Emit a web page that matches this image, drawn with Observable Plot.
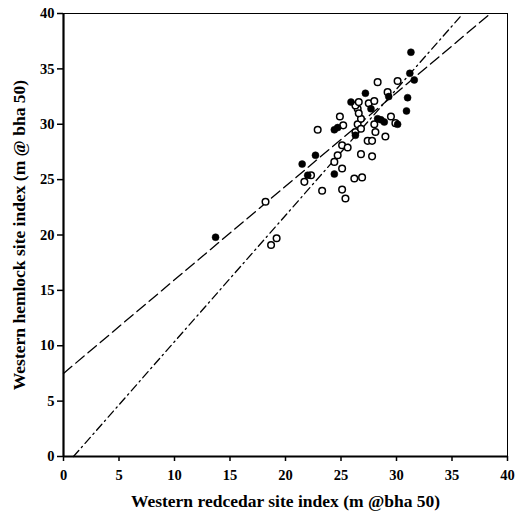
<!DOCTYPE html>
<html>
<head>
<meta charset="utf-8">
<script src="https://cdn.jsdelivr.net/npm/d3@7"></script>
<script src="https://cdn.jsdelivr.net/npm/@observablehq/plot@0.6"></script>
<style>
  html, body { margin: 0; padding: 0; background: #fff; }
</style>
</head>
<body>
<div id="chart"></div>
<script>
// Filled circles: [redcedar SI, hemlock SI]
const filledX = [13.7, 21.5, 22.0, 22.7, 24.4, 24.4, 24.7, 25.9, 26.3, 27.2, 27.7, 28.3, 28.6, 28.9, 29.3, 30.1, 30.9, 31.0, 31.3, 31.2, 31.6];
const filledY = [19.8, 26.4, 25.4, 27.2, 25.5, 29.5, 29.7, 32.0, 29.0, 32.8, 31.4, 30.5, 30.4, 30.2, 32.5, 30.0, 31.2, 32.4, 36.5, 34.6, 34.0];
// Open circles
const openX = [18.2, 18.7, 19.2, 21.7, 22.3, 22.9, 23.3, 24.4, 24.7, 25.1, 25.1, 25.4, 26.2, 26.9, 25.1, 25.6, 26.8, 27.8, 27.4, 27.8, 28.1, 29.0, 24.9, 25.2, 26.5, 26.3, 26.8, 26.5, 26.6, 26.3, 26.6, 27.5, 28.0, 28.3, 30.1, 29.2, 28.0, 29.5, 29.9, 26.8];
const openY = [23.0, 19.1, 19.7, 24.8, 25.4, 29.5, 24.0, 26.6, 27.2, 26.0, 24.1, 23.3, 25.1, 25.2, 28.1, 27.9, 27.3, 27.1, 28.5, 28.5, 29.3, 28.9, 30.7, 29.9, 30.0, 29.3, 30.5, 31.4, 31.0, 31.7, 32.0, 31.9, 32.1, 33.8, 33.9, 32.9, 30.0, 30.7, 30.1, 29.6];
// Fitted lines: intercept, slope, x-range
const dashedLine = {a: 7.5, b: 0.845, x0: 0, x1: 38.5};
const dashDotLine = {a: -1.03, b: 1.14, x0: 0.9, x1: 35.9};
const ticks = [0, 5, 10, 15, 20, 25, 30, 35, 40];
const xTitle = "Western redcedar site index (m @bha 50)";
const yTitle = "Western hemlock site index (m @ bha 50)";

const filled = filledX.map((x, i) => ({x, y: filledY[i]}));
const open = openX.map((x, i) => ({x, y: openY[i]}));
const lineData = l => [l.x0, l.x1].map(x => ({x, y: l.a + l.b * x}));

const chart = Plot.plot({
  width: 515,
  height: 521,
  marginLeft: 63,
  marginRight: 8,
  marginTop: 13,
  marginBottom: 65,
  style: {fontFamily: "'Liberation Serif', 'Times New Roman', serif", fontWeight: "bold", fontSize: "14px", color: "#000", background: "#fff"},
  x: {domain: [0, 40], axis: null},
  y: {domain: [0, 40], axis: null},
  marks: [
    Plot.frame({stroke: "#000", strokeWidth: 1}),
    Plot.line(lineData(dashedLine), {x: "x", y: "y", stroke: "#000", strokeWidth: 1.3, strokeDasharray: "11,5"}),
    Plot.line(lineData(dashDotLine), {x: "x", y: "y", stroke: "#000", strokeWidth: 1.3, strokeDasharray: "8,4,1.5,4"}),
    Plot.dot(open, {x: "x", y: "y", r: 3.3, fill: "#fff", stroke: "#000", strokeWidth: 1.5}),
    Plot.dot(filled, {x: "x", y: "y", r: 3.5, fill: "#000", stroke: "#000", strokeWidth: 0.5}),
    Plot.ruleX([0], {stroke: "#000", strokeWidth: 2.2}),
    Plot.ruleY([0], {stroke: "#000", strokeWidth: 2.2}),
    Plot.axisX(ticks, {tickSize: 5, tickPadding: 8, tickFormat: d => d, fontSize: 14.5, fontWeight: "bold", strokeWidth: 1.5, label: null}),
    Plot.axisY(ticks, {tickSize: 6, tickPadding: 3, tickFormat: d => d, fontSize: 14.5, fontWeight: "bold", strokeWidth: 1.5, label: null}),
    Plot.text([xTitle], {frameAnchor: "bottom", dy: 50, text: d => d, fontSize: 17.5, fontWeight: "bold"}),
    Plot.text([yTitle], {frameAnchor: "left", dx: -44, rotate: -90, textAnchor: "middle", text: d => d, fontSize: 17.5, fontWeight: "bold"})
  ]
});
document.getElementById("chart").appendChild(chart);
</script>
</body>
</html>
